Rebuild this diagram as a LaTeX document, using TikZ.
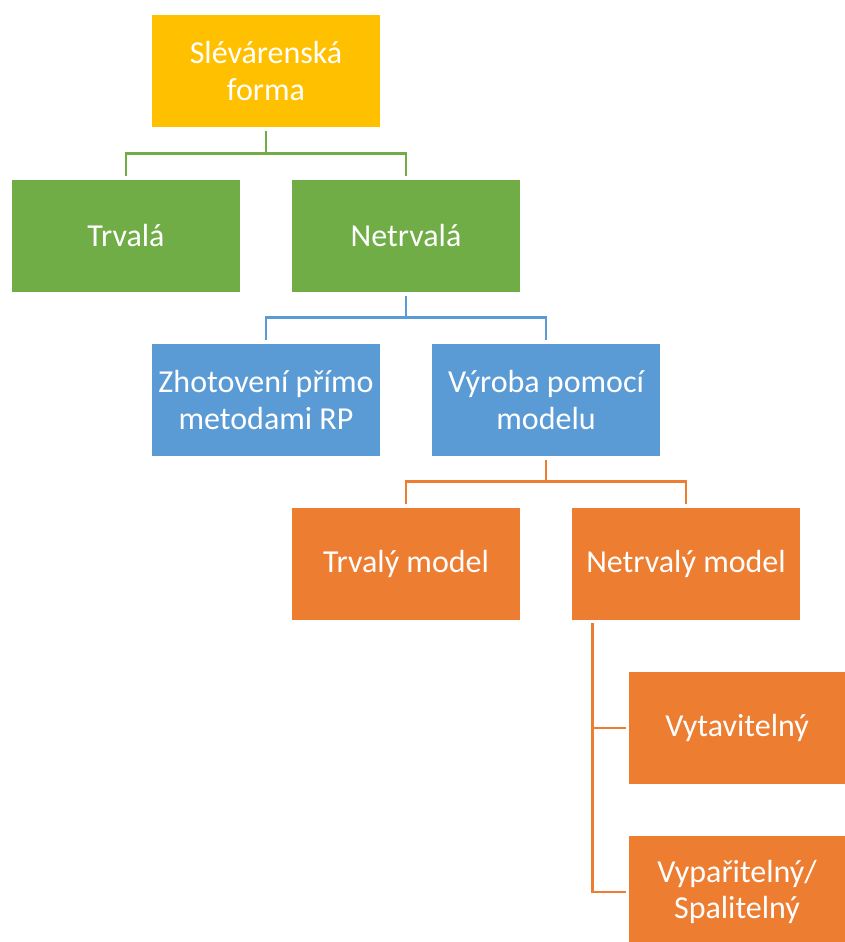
\documentclass[tikz,border=0pt]{standalone}
\usepackage{fontspec}
\setmainfont{Carlito}
\definecolor{cgold}{HTML}{FFC000}
\definecolor{cgreen}{HTML}{70AD47}
\definecolor{cblue}{HTML}{5B9BD5}
\definecolor{corange}{HTML}{ED7D31}
\tikzset{
  box/.style={rectangle, inner sep=0pt, minimum width=228pt, minimum height=112pt,
    align=center, text=white, font=\fontsize{32}{36.5}\selectfont},
  conn/.style={line width=2.9pt},
}
\begin{document}
\begin{tikzpicture}[x=1pt,y=-1pt]
\useasboundingbox (0,0) rectangle (845,942);
\node[box, fill=cgold] (forma) at (266,71) {Slévárenská\\forma};
\node[box, fill=cgreen] (trvala) at (126,236) {Trvalá};
\node[box, fill=cgreen] (netrvala) at (406,236) {Netrvalá};
\node[box, fill=cblue] (zhot) at (266,400) {Zhotovení přímo\\metodami RP};
\node[box, fill=cblue] (vyroba) at (546,400) {Výroba pomocí\\modelu};
\node[box, fill=corange] (trvmodel) at (406,564) {Trvalý model};
\node[box, fill=corange] (netrmodel) at (686,564) {Netrvalý model};
\node[box, fill=corange, minimum width=216pt] (vytav) at (737,728) {Vytavitelný};
\node[box, fill=corange, minimum width=216pt] (vypar) at (737,892) {Vypařitelný/\\Spalitelný};

\draw[conn, cgreen] ([yshift=-4pt]forma.south) -- ([yshift=-26.5pt]forma.south) -| ([yshift=4pt]trvala.north);
\draw[conn, cgreen] ([yshift=-26.5pt]forma.south) -| ([yshift=4pt]netrvala.north);
\draw[conn, cblue] ([yshift=-4pt]netrvala.south) -- ([yshift=-25.5pt]netrvala.south) -| ([yshift=4pt]zhot.north);
\draw[conn, cblue] ([yshift=-25.5pt]netrvala.south) -| ([yshift=4pt]vyroba.north);
\draw[conn, corange] ([yshift=-4pt]vyroba.south) -- ([yshift=-25.5pt]vyroba.south) -| ([yshift=4pt]trvmodel.north);
\draw[conn, corange] ([yshift=-25.5pt]vyroba.south) -| ([yshift=4pt]netrmodel.north);
\coordinate (c) at ([xshift=21pt,yshift=-3pt]netrmodel.south west);
\draw[conn, corange] (c) |- ([xshift=-3pt]vytav.west);
\draw[conn, corange] (c) |- ([xshift=-3pt]vypar.west);
\end{tikzpicture}
\end{document}
